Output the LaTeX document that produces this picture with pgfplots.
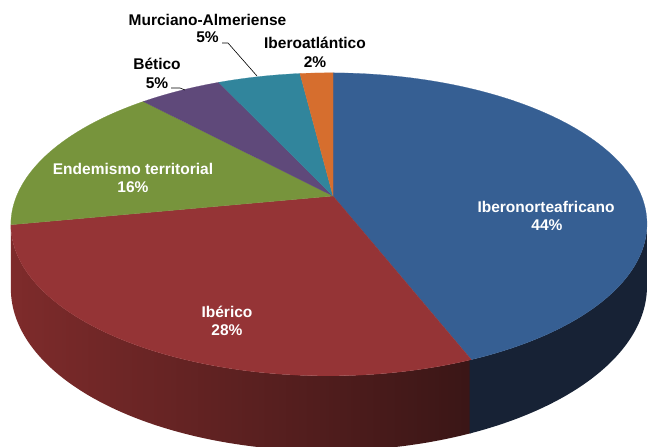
\documentclass[border=0pt]{standalone}
\usepackage{fontspec}
\setmainfont{Liberation Sans}
\usepackage{pgfplots}
\pgfplotsset{compat=1.18}

% data (percent)
\def\vIbn{44}% Iberonorteafricano
\def\vIbe{28}% Ibérico
\def\vEnd{16}% Endemismo territorial
\def\vBet{5}%  Bético
\def\vMur{5}%  Murciano-Almeriense
\def\vIat{2}%  Iberoatlántico
% cumulative angles, clockwise from top
\pgfmathsetmacro\aA{90}
\pgfmathsetmacro\aB{\aA-3.6*\vIbn}
\pgfmathsetmacro\aC{\aB-3.6*\vIbe}
\pgfmathsetmacro\aD{\aC-3.6*\vEnd}
\pgfmathsetmacro\aE{\aD-3.6*\vBet}
\pgfmathsetmacro\aF{\aE-3.6*\vMur}
\pgfmathsetmacro\aG{\aF-3.6*\vIat}
\pgfmathsetmacro\aBb{\aB-0.3}

\definecolor{cBlue}{RGB}{54,95,147}
\definecolor{cRed}{RGB}{149,52,54}
\definecolor{cGreen}{RGB}{119,148,60}
\definecolor{cPurple}{RGB}{95,73,122}
\definecolor{cTeal}{RGB}{49,133,156}
\definecolor{cOrange}{RGB}{214,110,46}
\definecolor{cBlueSide}{RGB}{23,34,53}
\definecolor{cRedSideL}{RGB}{126,43,43}
\definecolor{cRedSideR}{RGB}{58,22,22}

\tikzset{lbl/.style={font=\fontsize{15.5}{18}\selectfont\bfseries, inner sep=0pt, anchor=base}}

\begin{document}
\begin{tikzpicture}
\begin{axis}[
  scale only axis, width=648pt, height=447pt,
  xmin=0, xmax=648, ymin=0, ymax=447, y dir=reverse,
  axis lines=none, clip=true,
  declare function={
    pw(\t)=1+0.187*sin(\t)+0.0126*cos(\t);
    px(\t)=333+312.4*cos(\t)/pw(\t);
    py(\t)=196-146.2*sin(\t)/pw(\t);
    sang(\t,\a,\b)=\a+(\b-\a)*min(1,1.0101*(1-abs(1-\t)));
    sy(\t,\a,\b)=py(sang(\t,\a,\b))+(\t>1.001)*61/pw(sang(\t,\a,\b));
  },
]
% side walls
\addplot[draw=none, left color=cRedSideL, right color=cRedSideR, domain=0:2, samples=201, variable=\t]
  ({px(sang(\t,\aC,\aB))},{sy(\t,\aC,\aB)}) -- cycle;
\addplot[fill=cBlueSide, draw=none, domain=0:2, samples=201, variable=\t]
  ({px(sang(\t,\aBb,-10.78))},{sy(\t,\aBb,-10.78)}) -- cycle;
% top faces
\addplot[fill=cBlue, draw=cBlue, line width=0.2pt, domain=\aB:\aA, samples=120, variable=\t]
  ({px(\t)},{py(\t)}) -- (axis cs:333,196) -- cycle;
\addplot[fill=cRed, draw=cRed, line width=0.2pt, domain=\aC:\aB, samples=100, variable=\t]
  ({px(\t)},{py(\t)}) -- (axis cs:333,196) -- cycle;
\addplot[fill=cGreen, draw=cGreen, line width=0.2pt, domain=\aD:\aC, samples=60, variable=\t]
  ({px(\t)},{py(\t)}) -- (axis cs:333,196) -- cycle;
\addplot[fill=cPurple, draw=cPurple, line width=0.2pt, domain=\aE:\aD, samples=30, variable=\t]
  ({px(\t)},{py(\t)}) -- (axis cs:333,196) -- cycle;
\addplot[fill=cTeal, draw=cTeal, line width=0.2pt, domain=\aF:\aE, samples=30, variable=\t]
  ({px(\t)},{py(\t)}) -- (axis cs:333,196) -- cycle;
\addplot[fill=cOrange, draw=cOrange, line width=0.2pt, domain=\aG:\aF, samples=20, variable=\t]
  ({px(\t)},{py(\t)}) -- (axis cs:333,196) -- cycle;
% leader lines
\addplot[black, line width=0.6pt] coordinates {(222,43) (228,43) (257,76)};
\addplot[black, line width=0.6pt] coordinates {(171,88) (180,88) (185,90)};
% labels
\node[lbl, white] at (axis cs:546,212) {Iberonorteafricano};
\node[lbl, white] at (axis cs:547,230) {44\%};
\node[lbl, white] at (axis cs:227,317) {Ibérico};
\node[lbl, white] at (axis cs:227,335) {28\%};
\node[lbl, white] at (axis cs:133,174) {Endemismo territorial};
\node[lbl, white] at (axis cs:133,192) {16\%};
\node[lbl, black] at (axis cs:157,69) {Bético};
\node[lbl, black] at (axis cs:157,88) {5\%};
\node[lbl, black] at (axis cs:207.5,25) {Murciano-Almeriense};
\node[lbl, black] at (axis cs:207.5,42) {5\%};
\node[lbl, black] at (axis cs:315,48) {Iberoatlántico};
\node[lbl, black] at (axis cs:315,67) {2\%};
\end{axis}
\pgfresetboundingbox
\useasboundingbox (current axis.south west) rectangle (current axis.north east);
\end{tikzpicture}
\end{document}
